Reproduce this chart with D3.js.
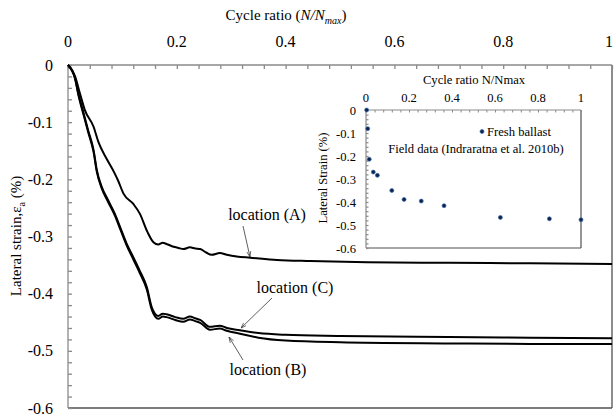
<!DOCTYPE html>
<html><head><meta charset="utf-8">
<script src="https://cdn.jsdelivr.net/npm/d3@7"></script>
<style>
body{margin:0;background:#fff;}
</style></head>
<body><svg id="c" width="614" height="418" font-family="'Liberation Serif', 'DejaVu Serif', serif"></svg>
<script>
// ---- Main chart data ----
const xTicks = [0, 0.2, 0.4, 0.6, 0.8, 1];
const xTickLabels = ["0", "0.2", "0.4", "0.6", "0.8", "1"];
const yTicks = [0, -0.1, -0.2, -0.3, -0.4, -0.5, -0.6];
const yTickLabels = ["0", "-0.1", "-0.2", "-0.3", "-0.4", "-0.5", "-0.6"];

const aX = [0, 0.013, 0.022, 0.031, 0.047, 0.056, 0.071, 0.086, 0.092, 0.102, 0.12, 0.132, 0.146, 0.157, 0.166, 0.174, 0.181, 0.194, 0.203, 0.212, 0.224, 0.234, 0.243, 0.254, 0.264, 0.279, 0.292, 0.31, 0.335, 0.384, 0.445, 0.55, 0.7, 0.85, 1.0];
const aY = [0, -0.02, -0.05, -0.079, -0.108, -0.135, -0.164, -0.19, -0.202, -0.225, -0.243, -0.26, -0.292, -0.31, -0.314, -0.311, -0.313, -0.318, -0.32, -0.322, -0.319, -0.321, -0.322, -0.328, -0.332, -0.329, -0.332, -0.335, -0.337, -0.341, -0.343, -0.345, -0.346, -0.347, -0.348];

const cX = [0, 0.013, 0.019, 0.028, 0.037, 0.047, 0.053, 0.062, 0.074, 0.086, 0.096, 0.108, 0.12, 0.132, 0.145, 0.154, 0.166, 0.174, 0.181, 0.197, 0.212, 0.224, 0.234, 0.243, 0.261, 0.279, 0.292, 0.316, 0.35, 0.4, 0.5, 0.7, 0.85, 1.0];
const cY = [0, -0.023, -0.05, -0.082, -0.114, -0.149, -0.184, -0.213, -0.237, -0.26, -0.284, -0.313, -0.336, -0.36, -0.389, -0.424, -0.439, -0.435, -0.436, -0.441, -0.444, -0.44, -0.443, -0.446, -0.458, -0.456, -0.46, -0.464, -0.469, -0.472, -0.474, -0.476, -0.477, -0.478];
const bX = [0, 0.013, 0.019, 0.028, 0.037, 0.047, 0.053, 0.062, 0.074, 0.086, 0.096, 0.108, 0.12, 0.132, 0.145, 0.154, 0.166, 0.174, 0.181, 0.197, 0.212, 0.224, 0.234, 0.243, 0.261, 0.279, 0.292, 0.316, 0.35, 0.4, 0.5, 0.7, 0.85, 1.0];
const bY = [0, -0.024, -0.052, -0.085, -0.117, -0.152, -0.187, -0.216, -0.24, -0.263, -0.287, -0.316, -0.34, -0.364, -0.393, -0.428, -0.444, -0.440, -0.441, -0.446, -0.449, -0.445, -0.448, -0.451, -0.463, -0.461, -0.465, -0.47, -0.477, -0.482, -0.485, -0.487, -0.488, -0.488];

// ---- Inset data ----
const insetTicksX = [0, 0.2, 0.4, 0.6, 0.8, 1];
const insetTickLabelsX = ["0", "0.2", "0.4", "0.6", "0.8", "1"];
const insetTicksY = [0, -0.1, -0.2, -0.3, -0.4, -0.5, -0.6];
const insetTickLabelsY = ["0", "-0.1", "-0.2", "-0.3", "-0.4", "-0.5", "-0.6"];
const fieldX = [0.003, 0.008, 0.015, 0.034, 0.053, 0.12, 0.177, 0.257, 0.363, 0.625, 0.853, 1.0];
const fieldY = [0, -0.081, -0.214, -0.27, -0.284, -0.35, -0.389, -0.396, -0.416, -0.467, -0.473, -0.477];

const svg = d3.select("#c");
const defs = svg.append("defs");
defs.append("marker").attr("id","ah").attr("viewBox","0 0 10 10").attr("refX",10).attr("refY",5)
  .attr("markerWidth",7).attr("markerHeight",7).attr("orient","auto-start-reverse")
  .append("path").attr("d","M0,1.5 L10,5 L0,8.5").attr("fill","none").attr("stroke","#333").attr("stroke-width",1.2);

// ---- Main plot ----
const L = 68, T = 65, W = 544, H = 343;
const x = d3.scaleLinear().domain([0,1]).range([L, L+W]);
const y = d3.scaleLinear().domain([0,-0.6]).range([T, T+H]);
const axisGray = "#8a8a8a", frameGray = "#505050";
const FS = 16, IFS = 12.6;

svg.append("line").attr("x1",L).attr("x2",L+W).attr("y1",T+H).attr("y2",T+H).attr("stroke",frameGray).attr("stroke-width",1.3);
svg.append("line").attr("x1",L+W).attr("x2",L+W).attr("y1",T).attr("y2",T+H).attr("stroke",frameGray).attr("stroke-width",1.3);

const xAx = svg.append("g").attr("transform",`translate(0,${T})`)
  .call(d3.axisTop(x).tickValues(d3.range(0,1.0001,0.04)).tickSize(-4).tickFormat(""));
xAx.selectAll("path,line").attr("stroke",axisGray).attr("stroke-width",1.3);
xAx.select(".domain").attr("d",`M${L},0H${L+W}`);
const yAx = svg.append("g").attr("transform",`translate(${L},0)`)
  .call(d3.axisLeft(y).tickValues(d3.range(0,-0.6001,-0.02)).tickSize(-4).tickFormat(""));
yAx.selectAll("path,line").attr("stroke",axisGray).attr("stroke-width",1.3);
yAx.select(".domain").attr("d",`M0,${T}V${T+H}`);

svg.append("g").selectAll("text").data(xTicks).join("text")
  .attr("x",d=>Math.min(x(d),609)).attr("y",47).attr("text-anchor","middle").attr("font-size",FS)
  .text((d,i)=>xTickLabels[i]);
svg.append("g").selectAll("text").data(yTicks).join("text")
  .attr("x",53).attr("y",d=>y(d)+5.5).attr("text-anchor","end").attr("font-size",FS)
  .text((d,i)=>yTickLabels[i]);

const tt = svg.append("text").attr("x",286).attr("y",20).attr("text-anchor","middle").attr("font-size",15);
tt.append("tspan").text("Cycle ratio (");
tt.append("tspan").attr("font-style","italic").text("N/N");
tt.append("tspan").attr("font-style","italic").attr("font-size",10).attr("dy",4).text("max");
tt.append("tspan").attr("dy",-4).text(")");

const yt = svg.append("text").attr("transform","translate(21,236) rotate(-90)").attr("text-anchor","middle").attr("font-size",15);
yt.append("tspan").text("Lateral strain,ε");
yt.append("tspan").attr("font-size",10).attr("dy",4).text("a");
yt.append("tspan").attr("dy",-4).text(" (%)");

const line = d3.line().x(d=>x(d[0])).y(d=>y(d[1])).curve(d3.curveMonotoneX);
[[aX,aY],[cX,cY],[bX,bY]].forEach(([xs,ys])=>{
  svg.append("path").datum(xs.map((v,i)=>[v,ys[i]])).attr("d",line)
    .attr("fill","none").attr("stroke","#000").attr("stroke-width",2);
});

const ann = [
  {t:"location (A)", tx:267, ty:220, x1:243, y1:226, x2:250, y2:257},
  {t:"location (C)", tx:295, ty:293, x1:272, y1:298, x2:241, y2:328},
  {t:"location (B)", tx:268, ty:375, x1:243, y1:360, x2:229, y2:337}
];
ann.forEach(a=>{
  svg.append("text").attr("x",a.tx).attr("y",a.ty).attr("text-anchor","middle").attr("font-size",FS).text(a.t);
  svg.append("line").attr("x1",a.x1).attr("y1",a.y1).attr("x2",a.x2).attr("y2",a.y2)
    .attr("stroke","#333").attr("stroke-width",0.8).attr("marker-end","url(#ah)");
});

// ---- Inset ----
const iL = 366, iT = 110, iW = 215, iH = 138;
const ix = d3.scaleLinear().domain([0,1]).range([iL, iL+iW]);
const iy = d3.scaleLinear().domain([0,-0.6]).range([iT, iT+iH]);
svg.append("rect").attr("x",iL).attr("y",iT).attr("width",iW).attr("height",iH).attr("fill","#fff");
svg.append("line").attr("x1",iL).attr("x2",iL+iW).attr("y1",iT+iH).attr("y2",iT+iH).attr("stroke",frameGray).attr("stroke-width",1.2);
svg.append("line").attr("x1",iL+iW).attr("x2",iL+iW).attr("y1",iT).attr("y2",iT+iH).attr("stroke",frameGray).attr("stroke-width",1.2);
const ixAx = svg.append("g").attr("transform",`translate(0,${iT})`)
  .call(d3.axisTop(ix).tickValues(d3.range(0,1.0001,0.04)).tickSize(-2.5).tickFormat(""));
ixAx.selectAll("path,line").attr("stroke",axisGray).attr("stroke-width",1);
ixAx.select(".domain").attr("d",`M${iL},0H${iL+iW}`);
const iyAx = svg.append("g").attr("transform",`translate(${iL},0)`)
  .call(d3.axisLeft(iy).tickValues(d3.range(0,-0.6001,-0.02)).tickSize(-2.5).tickFormat(""));
iyAx.selectAll("path,line").attr("stroke",axisGray).attr("stroke-width",1.2);
iyAx.select(".domain").attr("d",`M0,${iT}V${iT+iH}`);

svg.append("g").selectAll("text").data(insetTicksX).join("text")
  .attr("x",d=>ix(d)).attr("y",101.5).attr("text-anchor","middle").attr("font-size",IFS)
  .text((d,i)=>insetTickLabelsX[i]);
svg.append("g").selectAll("text").data(insetTicksY).join("text")
  .attr("x",356).attr("y",d=>iy(d)+4.5).attr("text-anchor","end").attr("font-size",IFS)
  .text((d,i)=>insetTickLabelsY[i]);
svg.append("text").attr("x",474).attr("y",84).attr("text-anchor","middle").attr("font-size",IFS).text("Cycle ratio N/Nmax");
svg.append("text").attr("transform","translate(327,178) rotate(-90)").attr("text-anchor","middle").attr("font-size",IFS).text("Lateral Strain (%)");

svg.append("g").selectAll("circle").data(fieldX).join("circle")
  .attr("cx",d=>ix(d)).attr("cy",(d,i)=>iy(fieldY[i])).attr("r",2)
  .attr("fill","#0f2347").attr("stroke","#3b6db3").attr("stroke-width",0.7);

svg.append("circle").attr("cx",482).attr("cy",131.5).attr("r",2).attr("fill","#0f2347").attr("stroke","#3b6db3").attr("stroke-width",0.7);
svg.append("text").attr("x",487).attr("y",136).attr("font-size",IFS).text("Fresh ballast");
svg.append("text").attr("x",476).attr("y",153).attr("text-anchor","middle").attr("font-size",IFS).text("Field data (Indraratna et al. 2010b)");
</script></body></html>
